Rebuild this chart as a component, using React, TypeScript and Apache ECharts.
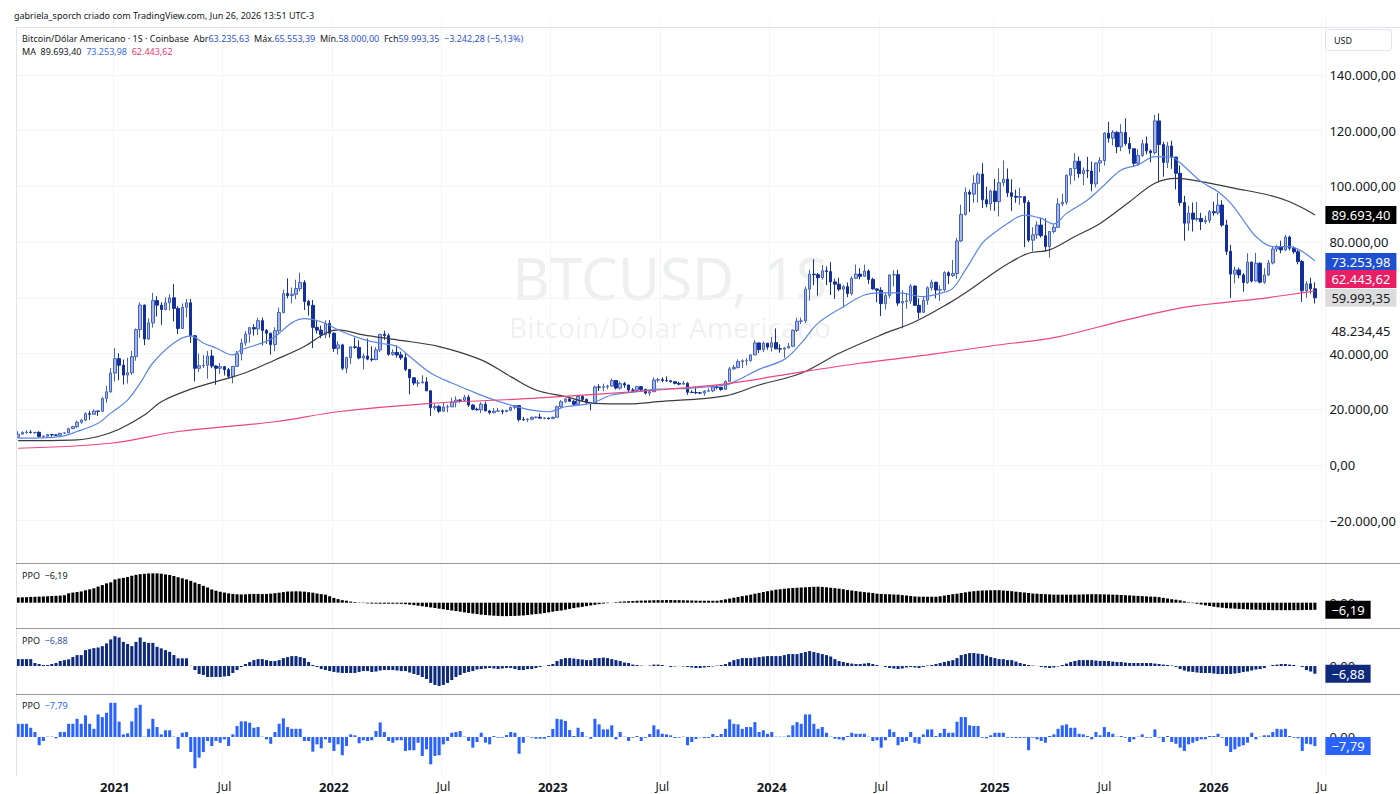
import React, { useEffect, useRef } from 'react';
import * as echarts from 'echarts';

const FONT = '"Noto Sans", Roboto, sans-serif';
const startDateUTC = Date.UTC(2020, 6, 27); // first weekly bar (Mon)
const weekCount = 311; // 309 bars + 2 empty future slots

// weekly candles in thousands of USD: [open, close, low, high]
const weeklyCandles = [
  // 2020
  [9.93,11.05,9.88,12.10],[11.05,11.68,11.00,12.05],[11.68,11.77,11.15,12.48],[11.77,11.65,11.30,12.47],
  [11.65,11.71,11.10,11.80],[11.71,10.25,9.88,12.09],[10.25,10.33,9.88,10.60],[10.33,10.92,10.20,11.10],
  [10.92,10.78,10.14,10.99],[10.78,10.67,10.38,10.95],[10.67,11.38,10.53,11.49],[11.38,11.50,11.20,11.73],
  [11.50,13.03,11.42,13.35],[13.03,13.77,12.90,14.10],[13.77,15.30,13.20,15.96],[15.30,16.05,14.80,16.50],
  [16.05,18.40,15.80,18.95],[18.40,18.18,16.20,19.47],[18.18,19.36,18.10,19.92],[19.36,19.27,17.60,19.40],
  [19.27,23.85,19.00,24.30],[23.85,26.28,22.30,28.40],[26.28,33.00,25.90,34.80],
  // 2021
  [33.00,38.15,30.00,41.95],[38.15,35.80,30.40,40.10],[35.80,32.26,28.85,37.85],[32.26,33.10,29.25,38.50],
  [33.10,38.90,32.30,40.95],[38.90,48.60,37.40,49.00],[48.60,57.40,45.60,58.35],[57.40,45.20,43.00,57.50],
  [45.20,51.00,44.95,52.65],[51.00,59.00,49.30,61.80],[59.00,57.35,53.30,60.60],[57.35,55.80,50.30,58.40],
  [55.80,58.20,55.50,60.20],[58.20,60.00,55.50,61.30],[60.00,56.20,51.50,64.90],[56.20,49.00,47.00,57.00],
  [49.00,56.60,48.80,58.00],[56.60,58.20,53.00,59.60],[58.20,46.40,43.80,59.60],[46.40,34.70,30.00,46.60],
  [34.70,35.60,33.40,40.00],[35.60,35.80,34.80,39.50],[35.80,39.10,31.00,40.90],[39.10,35.50,34.80,41.30],
  [35.50,34.70,28.80,35.80],[34.70,35.30,32.70,36.60],[35.30,34.20,32.10,35.40],[34.20,31.80,31.00,34.80],
  [31.80,35.40,29.30,35.50],[35.40,39.90,35.30,40.90],[39.90,43.80,37.50,45.30],[43.80,47.00,42.80,48.10],
  [47.00,49.30,43.90,49.50],[49.30,48.80,46.40,50.50],[48.80,51.80,46.60,52.90],[51.80,48.30,42.90,52.90],
  [48.30,47.30,43.50,48.80],[47.30,43.20,39.60,47.40],[43.20,48.20,40.80,49.40],[48.20,54.70,46.90,56.50],
  [54.70,61.50,54.40,62.90],[61.50,60.80,59.80,67.00],[60.80,61.30,58.00,63.70],[61.30,63.30,59.50,66.50],
  [63.30,65.50,62.30,69.00],[65.50,58.70,55.60,66.30],[58.70,57.30,53.60,59.30],[57.30,49.40,42.00,59.20],
  [49.40,48.40,47.10,51.90],[48.40,46.70,45.50,50.00],[46.70,50.80,45.50,51.90],[50.80,47.30,45.70,52.00],
  // 2022
  [47.30,41.80,40.60,47.60],[41.80,43.10,39.60,44.40],[43.10,34.70,34.00,43.50],[34.70,38.50,32.90,38.90],
  [38.50,42.40,36.30,42.60],[42.40,42.20,41.70,45.80],[42.20,38.40,37.90,44.70],[38.40,39.10,34.30,40.00],
  [39.10,38.00,37.60,45.40],[38.00,37.80,37.10,42.60],[37.80,41.30,37.60,42.30],[41.30,46.90,40.50,47.00],
  [46.90,46.40,44.90,48.20],[46.40,39.70,39.20,47.20],[39.70,40.40,39.20,41.50],[40.40,39.50,38.50,42.90],
  [39.50,38.50,37.70,40.70],[38.50,34.30,33.70,40.00],[34.30,31.30,25.40,34.40],[31.30,29.40,28.70,31.40],
  [29.40,29.45,28.00,30.60],[29.45,29.80,29.30,32.20],[29.80,26.60,26.50,31.50],[26.60,20.55,17.60,26.80],
  [20.55,21.00,19.70,21.90],[21.00,19.30,18.60,21.50],[19.30,20.80,19.00,22.50],[20.80,20.85,18.90,21.60],
  [20.85,22.60,20.80,24.20],[22.60,23.30,20.70,24.60],[23.30,23.20,22.40,23.60],[23.20,24.30,22.70,25.20],
  [24.30,21.50,20.80,25.20],[21.50,20.00,19.60,21.80],[20.00,19.80,19.50,20.60],[19.80,21.80,18.60,22.50],
  [21.80,19.40,19.30,22.80],[19.40,18.80,18.10,19.70],[18.80,19.30,18.50,20.40],[19.30,19.40,19.00,20.50],
  [19.40,19.20,18.20,19.90],[19.20,19.60,18.90,19.70],[19.60,20.60,19.30,21.00],[20.60,21.30,20.00,21.50],
  [21.30,16.30,15.60,21.40],[16.30,16.25,15.80,17.20],[16.25,16.40,15.50,16.80],[16.40,17.10,16.00,17.40],
  [17.10,17.15,16.70,17.40],[17.15,16.80,16.50,18.40],[16.80,16.85,16.40,17.00],[16.85,16.60,16.40,16.95],
  // 2023
  [16.60,17.10,16.50,17.40],[17.10,20.90,17.00,21.30],[20.90,22.70,20.40,23.30],[22.70,23.70,22.30,23.80],
  [23.70,22.90,22.60,24.20],[22.90,21.80,21.40,23.20],[21.80,24.60,21.50,25.20],[24.60,23.50,22.80,25.10],
  [23.50,22.40,21.90,23.90],[22.40,22.00,19.60,22.60],[22.00,28.00,21.90,28.50],[28.00,27.90,26.60,29.00],
  [27.90,28.10,26.50,29.20],[28.10,28.30,27.20,28.80],[28.30,30.30,28.20,31.00],[30.30,27.60,27.10,30.40],
  [27.60,29.20,27.00,30.00],[29.20,28.70,27.70,29.80],[28.70,26.90,26.00,28.80],[26.90,26.80,26.30,27.60],
  [26.80,28.10,26.10,28.40],[28.10,27.10,26.50,28.40],[27.10,25.80,25.30,27.40],[25.80,26.30,24.80,26.80],
  [26.30,30.50,26.20,31.40],[30.50,30.60,29.60,31.30],[30.60,30.30,29.70,31.50],[30.30,30.20,29.90,31.80],
  [30.20,29.90,29.50,30.40],[29.90,29.30,28.90,30.00],[29.30,29.00,28.60,29.80],[29.00,29.30,28.80,30.20],
  [29.30,26.10,25.20,29.70],[26.10,26.00,25.80,26.80],[26.00,25.90,25.40,28.10],[25.90,25.80,25.40,26.10],
  [25.80,26.50,24.90,26.90],[26.50,26.60,26.30,27.50],[26.60,28.00,26.10,28.10],[28.00,27.90,27.20,28.60],
  [27.90,27.10,26.60,28.00],[27.10,30.00,26.90,30.30],[30.00,34.50,29.90,35.20],[34.50,35.00,34.10,35.90],
  [35.00,37.10,34.60,37.90],[37.10,37.40,34.80,37.90],[37.40,37.45,35.70,38.40],[37.45,39.50,37.10,39.70],
  [39.50,43.80,39.40,44.70],[43.80,41.40,40.20,43.90],[41.40,43.70,40.50,44.30],[43.70,42.30,41.40,43.80],
  // 2024
  [42.30,43.90,40.70,45.90],[43.90,41.70,41.50,49.00],[41.70,41.60,40.30,43.30],[41.60,42.00,38.50,42.20],
  [42.00,42.60,41.80,43.80],[42.60,48.30,42.30,48.60],[48.30,51.60,47.70,52.80],[51.60,51.70,50.60,52.90],
  [51.70,63.10,50.90,64.00],[63.10,68.50,59.00,70.10],[68.50,68.30,64.50,73.80],[68.30,67.20,60.80,68.90],
  [67.20,69.70,66.50,71.80],[69.70,69.40,64.50,71.30],[69.40,65.70,61.00,72.80],[65.70,64.90,59.60,66.90],
  [64.90,63.10,62.40,67.20],[63.10,64.00,56.50,64.70],[64.00,61.50,60.20,65.50],[61.50,67.00,60.80,67.70],
  [67.00,68.50,66.70,71.90],[68.50,67.70,66.60,70.60],[67.70,69.60,67.60,71.90],[69.60,66.60,65.00,70.20],
  [66.60,63.20,63.00,67.20],[63.20,62.70,58.40,63.30],[62.70,57.90,53.50,63.80],[57.90,60.80,55.80,61.60],
  [60.80,68.20,59.90,68.30],[68.20,68.30,64.10,69.90],[68.30,58.10,57.10,70.00],[58.10,58.70,49.00,62.70],
  [58.70,58.90,56.10,61.80],[58.90,64.20,57.80,65.00],[64.20,57.30,57.20,64.40],[57.30,54.80,52.50,59.80],
  [54.80,59.10,54.60,60.60],[59.10,63.60,57.50,64.10],[63.60,65.60,62.60,66.50],[65.60,62.80,59.80,65.70],
  [62.80,62.90,58.90,64.50],[62.90,69.00,62.30,69.50],[69.00,68.00,65.00,69.50],[68.00,68.70,67.50,73.60],
  [68.70,80.40,66.80,81.50],[80.40,89.90,80.00,93.40],[89.90,97.90,89.50,99.60],[97.90,97.20,90.80,98.80],
  [97.20,101.10,94.10,104.00],[101.10,104.40,94.20,105.00],[104.40,95.20,92.20,108.30],[95.20,93.70,92.50,99.90],
  [93.70,98.30,91.30,98.90],
  // 2025
  [98.30,94.50,91.20,102.70],[94.50,101.30,89.20,106.40],[101.30,102.60,100.00,109.30],[102.60,97.70,96.20,106.40],
  [97.70,96.40,91.20,102.50],[96.40,96.10,94.10,98.80],[96.10,96.30,93.40,99.50],[96.30,94.20,78.20,96.50],
  [94.20,80.70,80.00,95.00],[80.70,82.60,76.60,85.30],[82.60,86.10,81.10,87.50],[86.10,82.30,81.60,88.80],
  [82.30,78.40,77.10,88.50],[78.40,83.80,74.40,84.00],[83.80,85.30,83.10,86.40],[85.30,93.70,85.10,95.80],
  [93.70,94.30,92.80,97.40],[94.30,104.00,93.40,104.30],[104.00,106.40,100.70,106.60],[106.40,109.00,102.00,112.00],
  [109.00,104.60,103.10,110.70],[104.60,105.70,100.40,106.80],[105.70,105.50,103.00,110.60],[105.50,100.90,98.20,108.90],
  [100.90,108.40,99.60,108.50],[108.40,109.20,105.10,110.50],[109.20,119.10,107.50,119.50],[119.10,117.30,115.70,123.20],
  [117.30,119.40,114.70,120.20],[119.40,114.20,111.90,119.80],[114.20,119.30,112.60,122.30],[119.30,115.40,114.60,124.40],
  [115.40,113.50,111.70,117.60],[113.50,108.30,107.30,113.60],[108.30,111.10,107.30,113.40],[111.10,115.30,110.60,116.80],
  [115.30,112.70,111.50,117.90],[112.70,112.10,108.60,113.30],[112.10,123.50,111.40,125.70],[123.50,115.00,102.00,126.20],
  [115.00,108.60,103.50,116.00],[108.60,114.50,106.60,116.00],[114.50,110.50,106.30,116.40],[110.50,104.70,98.90,110.60],
  [104.70,94.20,93.00,107.50],[94.20,86.80,80.50,96.60],[86.80,90.40,84.00,93.10],[90.40,88.20,83.80,94.20],
  [88.20,88.50,87.50,94.40],[88.50,87.30,84.30,90.50],[87.30,87.80,86.50,89.50],[87.80,90.90,86.80,91.50],
  // 2026
  [90.90,90.50,89.50,94.50],[90.50,93.30,89.80,97.60],[93.30,86.10,85.50,95.00],[86.10,76.70,75.40,88.00],
  [76.70,68.50,60.00,79.00],[68.50,70.00,65.20,71.20],[70.00,68.20,67.00,70.80],[68.20,65.50,62.20,68.80],
  [65.50,72.80,65.00,76.00],[72.80,66.00,65.50,73.00],[66.00,72.40,65.80,76.10],[72.40,65.60,65.20,72.80],
  [65.60,68.20,65.00,70.60],[68.20,72.50,67.80,73.60],[72.50,77.50,72.00,78.40],[77.50,78.20,76.50,79.00],
  [78.20,77.20,76.00,80.50],[77.20,81.80,76.80,82.60],[81.80,77.80,77.00,82.30],[77.80,76.50,75.80,78.50],
  [76.50,73.00,72.00,77.20],[73.00,62.50,58.50,73.60],[62.50,65.00,60.00,66.00],[65.00,63.236,61.50,67.20],
  [63.236,59.993,58.00,65.553],
];

// moving averages: [weekIndex, value in k USD]
const maShortPoints = [[0,9.6],[10,10.2],[14,12.0],[19,15.0],[22,18.6],[26,23.3],[29,29.4],[32,36.6],[37,43.8],[41,46.3],[44,43.8],[47,42.0],[51,39.5],[53,41.3],[58,43.8],[61,46.0],[65,51.0],[68,52.5],[72,51.4],[77,47.8],[82,45.1],[86,43.7],[90,42.5],[93,38.9],[98,33.0],[103,29.4],[107,26.9],[112,23.9],[117,21.5],[122,19.7],[126,19.1],[130,20.9],[136,22.1],[141,25.1],[147,26.3],[152,27.2],[159,27.5],[168,28.7],[171,30.5],[176,34.3],[182,37.9],[186,43.7],[190,50.9],[196,56.8],[201,61.0],[205,61.8],[209,61.8],[215,60.4],[219,61.6],[222,63.4],[225,70.0],[229,79.6],[231,82.3],[235,86.7],[239,89.7],[243,88.5],[246,86.5],[249,90.3],[254,95.1],[258,100.5],[262,105.9],[266,107.7],[270,110.7],[274,110.5],[276,108.5],[281,101.7],[285,98.1],[288,94.0],[291,87.9],[294,82.0],[298,78.4],[302,78.4],[305,76.6],[308,73.254]];
const maMidPoints = [[0,8.7],[14,9.0],[19,10.2],[24,12.8],[30,17.9],[34,22.7],[41,27.2],[47,29.9],[54,33.1],[61,37.7],[68,42.5],[73,47.3],[76,48.5],[82,46.7],[90,44.9],[100,42.5],[110,37.7],[117,31.7],[123,26.9],[130,24.5],[137,22.1],[145,21.9],[152,22.7],[168,24.8],[176,28.7],[186,32.9],[195,40.1],[205,46.7],[213,51.4],[221,58.0],[226,62.8],[231,68.2],[236,73.0],[240,76.0],[245,77.2],[251,82.0],[257,86.7],[264,94.5],[270,101.1],[275,102.9],[281,101.7],[289,99.3],[297,96.9],[302,94.5],[306,91.5],[308,89.693]];
const maLongPoints = [[0,6.0],[22,7.8],[38,12.0],[61,15.5],[76,19.1],[98,22.1],[122,23.9],[152,26.9],[168,29.1],[184,32.9],[200,36.5],[216,39.5],[231,42.7],[247,46.0],[263,52.0],[278,56.8],[294,59.5],[308,62.444]];

// PPO histograms (one value per week)
const ppoBlack = [
  4.6,4.7,4.8,5.0,5.1,5.3,5.4,5.6,5.8,6.0, 6.2,6.5,8.1,8.8,9.3,9.8,10.8,11.6,12.5,14.0,
  15.3,16.8,17.7,20.2,21.0,21.6,22.3,23.4,24.2,24.8, 25.1,25.4,25.5,25.5,25.2,24.6,24.1,23.2,22.1,21.2,
  20.2,19.0,17.5,16.2,14.6,13.2,11.5,10.4,9.5,8.8, 8.1,7.6,7.3,7.2,7.3,7.5,7.6,7.6,7.5,7.6,
  7.9,8.3,8.7,9.2,9.7,9.8,9.9,9.8,9.6,9.1, 8.7,8.0,7.4,7.0,5.6,4.1,3.1,2.2,1.7,1.0,
  0.6,0.2,-0.3,-0.6,-0.8,-0.8,-0.9,-0.9,-0.9,-0.9, -0.9,-1.0,-1.3,-1.7,-2.1,-2.6,-3.1,-3.6,-4.1,-4.6,
  -5.2,-5.7,-6.3,-6.8,-7.3,-7.8,-8.4,-8.9,-9.4,-9.9, -10.4,-10.7,-11.0,-11.3,-11.5,-11.7,-11.7,-11.6,-11.5,-11.3,
  -11.1,-10.7,-10.3,-9.9,-9.6,-9.0,-8.4,-7.8,-7.2,-6.8, -6.1,-5.4,-4.7,-4.1,-3.6,-3.0,-2.4,-1.8,-1.3,-0.8,
  -0.4,0.1,0.5,0.9,1.1,1.3,1.5,1.7,1.8,1.9, 2.0,2.1,2.2,2.2,2.3,2.3,2.2,2.2,2.1,2.0,
  1.9,1.8,1.7,1.7,1.7,1.7,1.7,2.2,2.9,3.6, 4.3,5.0,5.7,6.3,7.0,7.8,8.5,9.3,10.0,10.6,
  11.3,11.7,12.1,12.5,12.8,13.0,13.2,13.4,13.6,13.8, 13.9,13.7,13.4,13.0,12.6,12.2,11.7,11.1,10.6,10.1,
  9.6,9.2,8.8,8.4,7.8,7.6,7.4,7.3,7.1,7.0, 6.6,6.2,5.8,5.4,5.2,5.2,5.2,5.2,5.2,5.6,
  6.2,6.8,7.4,7.8,8.4,9.0,9.6,10.0,10.4,10.6, 10.7,10.8,10.9,10.9,10.6,10.3,10.0,9.6,9.2,8.8,
  8.4,8.0,7.8,7.6,7.4,7.2,7.0,7.0,7.0,7.0, 7.0,7.0,7.1,7.2,7.3,7.4,7.4,7.3,7.2,7.1,
  7.0,6.9,6.7,6.5,6.3,6.1,5.9,5.7,5.5,5.3, 5.2,4.8,4.2,3.6,3.0,2.6,2.0,1.2,0.4,-0.4,
  -0.9,-1.6,-2.3,-2.9,-3.5,-4.0,-4.4,-4.8,-5.0,-5.2, -5.4,-5.6,-5.8,-6.0,-6.1,-6.2,-6.3,-6.4,-6.5,-6.5,
  -6.5,-6.5,-6.5,-6.5,-6.5,-6.4,-6.3,-6.25,-6.19,
];
const ppoNavy = [
  6.2,6.2,6.2,6.2,2.7,1.8,0.9,0.9,1.8,2.7, 4.5,5.3,6.0,8.0,9.8,9.8,14.2,15.1,16.0,16.6,
  17.8,20.2,23.8,26.7,25.5,21.6,19.6,17.8,21.6,25.5, 21.6,20.7,20.7,17.2,15.8,14.2,12.7,9.8,6.9,6.9,
  6.9,0.2,-3.6,-7.1,-8.0,-9.8,-9.8,-9.8,-9.8,-9.3, -8.9,-6.2,-3.6,-0.9,1.8,3.6,5.3,6.2,6.2,5.3,
  4.5,4.5,5.3,7.1,8.0,8.9,8.9,8.0,7.1,3.6, 0.9,-0.9,-2.7,-3.6,-4.5,-5.3,-5.8,-6.2,-6.2,-6.2,
  -6.2,-5.3,-4.5,-4.5,-5.3,-4.9,-4.0,-3.6,-3.6,-3.6, -4.0,-4.5,-4.5,-5.8,-7.1,-8.0,-9.8,-11.6,-15.1,-16.9,
  -17.8,-16.9,-15.1,-12.5,-9.8,-8.0,-6.2,-5.3,-4.5,-3.1, -2.7,-2.2,-1.8,-2.2,-2.7,-2.2,-1.8,-1.8,-2.7,-3.6,
  -3.6,-2.7,-2.7,-1.8,-0.9,0.1,0.9,1.8,4.5,6.2, 7.1,7.1,6.7,6.2,5.8,5.3,5.3,7.1,7.1,7.6,
  7.1,6.2,5.3,4.5,3.1,2.7,1.3,0.9,0.4,0.1, 0.4,1.3,1.3,0.9,0.1,-0.9,-0.4,0.1,-0.4,-0.9,
  -1.3,-1.8,-1.8,-1.3,-0.9,-0.4,0.4,0.9,1.8,3.6, 5.3,6.2,7.1,7.1,7.1,7.6,8.0,8.5,8.9,8.9,
  8.9,8.9,9.8,10.7,10.7,10.7,11.6,12.5,13.4,12.5, 11.6,10.7,9.8,8.5,6.2,4.5,3.6,2.7,2.2,1.8,
  1.8,2.2,2.7,1.8,0.9,0.1,-0.9,-1.8,-2.2,-2.7, -2.2,-1.3,-0.9,-1.3,-1.8,-0.9,0.4,0.9,1.8,2.7,
  3.6,4.5,5.3,7.1,9.8,10.7,11.6,11.6,11.1,10.7, 9.3,8.0,7.1,6.2,6.2,5.3,5.3,4.0,2.7,1.8,
  0.9,0.4,0.1,-0.9,-1.3,-1.8,-1.3,-0.4,0.9,2.2, 3.6,4.5,5.3,5.3,5.3,5.3,4.9,4.5,4.5,4.5,
  4.0,3.6,3.6,3.1,2.7,2.7,2.7,2.7,2.7,2.7, 2.2,1.8,1.3,0.9,0.4,-0.9,-2.7,-4.0,-4.9,-5.3,
  -5.8,-6.2,-6.2,-6.2,-6.7,-7.1,-7.1,-7.1,-7.1,-6.7, -6.2,-5.3,-4.9,-4.0,-3.1,-2.7,-1.8,0.1,0.9,1.3,
  1.8,1.8,1.3,0.9,0.1,-0.9,-3.6,-4.9,-6.88,
];
const ppoBlue = [
  11.4,11.4,11.4,8.0,4.3,-7.1,-3.4,0.3,0.3,-1.1, 4.3,4.3,11.4,11.4,15.7,11.4,18.7,11.4,7.1,19.5,
  17.2,20.9,29.5,29.5,13.2,2.3,3.2,13.5,25.2,27.8, 0.3,7.1,15.7,8.6,2.3,5.8,5.8,0.3,-10.1,3.7,
  4.3,-12.9,-26.9,-17.8,-12.9,-3.4,-7.7,-3.4,-4.9,-2.0, -7.7,2.3,9.5,13.5,13.5,12.3,8.0,8.6,0.3,-2.0,
  -5.8,4.3,11.4,16.1,8.6,7.1,7.1,7.1,-3.4,-3.4, -12.6,-6.3,-9.7,-2.0,-4.9,-12.0,-6.3,-15.7,-7.7,2.3,
  1.5,-5.4,-2.8,-3.4,-2.8,5.2,12.6,4.3,-3.4,-4.9, -2.8,-2.8,-12.0,-11.4,-11.4,-4.9,-16.3,-10.6,-23.5,-16.3,
  -15.7,-6.3,-3.4,3.7,4.3,5.2,0.3,-3.4,-9.2,-4.3, 3.7,-4.9,-6.3,0.9,-0.6,-0.6,1.7,4.3,3.7,-14.4,
  -4.9,0.3,-0.6,-1.5,-1.5,-1.5,0.9,6.9,15.7,15.2, 13.8,6.0,0.9,8.0,4.3,0.3,-1.5,15.7,10.9,6.6,
  6.6,10.1,-2.0,4.3,0.3,-3.4,-0.6,0.9,-3.4,-0.6, 2.6,10.1,6.6,2.8,2.3,1.5,-0.9,-0.6,0.3,-7.1,
  -4.3,-1.7,-0.3,-0.9,-0.9,2.6,0.9,2.6,7.1,15.2, 11.4,10.9,7.1,8.6,8.6,12.9,4.3,5.8,2.8,4.3,
  0.3,0.3,0.3,1.5,10.1,12.9,11.4,19.5,19.5,11.4, 7.1,8.6,3.7,0.3,-1.5,-2.0,-2.8,0.9,3.7,2.8,
  2.8,2.8,0.3,-3.4,-2.8,-9.2,-2.8,6.6,4.3,-7.1, -4.3,-3.4,4.3,-4.9,-5.8,2.3,6.6,6.6,0.9,3.4,
  7.1,3.7,3.7,13.2,17.2,17.2,10.1,9.5,9.5,-0.6, -1.1,1.5,3.7,3.7,3.7,-0.6,-0.6,-0.9,-0.9,-0.6,
  -11.4,-0.6,-2.0,-3.4,-4.9,0.9,2.3,7.1,10.1,10.9, 8.0,8.0,2.8,2.3,0.9,-2.0,4.3,1.5,8.6,4.3,
  2.8,0.3,0.9,-0.6,-4.3,-2.0,0.3,2.3,-0.6,-0.6, 6.6,-0.6,-4.3,0.9,-4.3,-5.8,-9.2,-12.0,-6.3,-4.9,
  -3.4,-2.0,-2.0,0.9,0.9,2.8,-0.6,-7.7,-12.9,-10.6, -8.3,-7.1,-4.9,3.7,-2.0,0.3,1.5,1.5,4.3,7.1,
  6.6,7.1,0.9,-0.6,-1.1,-12.0,-5.8,-6.3,-7.79,
];

// header / last values
const headerOHLC = [63235.63, 65553.39, 58000.0, 59993.35];
const headerChange = [-3242.28, -5.13];
const maLastValues = [89693.40, 73253.98, 62443.62];
const ppoLastValues = [-6.19, -6.88, -7.79];
const extraPriceLabel = 48234.45;
const priceTicksK = [-20, 0, 20, 40, 60, 80, 100, 120, 140];

const fmtBR = (v, dec = 2) => {
  const neg = v < 0;
  const s = Math.abs(v).toFixed(dec);
  const parts = s.split('.');
  const intPart = parts[0].replace(/\B(?=(\d{3})+(?!\d))/g, '.');
  return (neg ? '−' : '') + intPart + (parts[1] ? ',' + parts[1] : '');
};

const categories = Array.from({ length: weekCount }, (_, i) =>
  new Date(startDateUTC + i * 7 * 86400000).toISOString().slice(0, 10)
);
const tickText = (d) => {
  const m = +d.slice(5, 7);
  const day = +d.slice(8, 10);
  if (day <= 7 && m === 1) return { year: true, text: d.slice(0, 4) };
  if (day <= 7 && m === 7) return { year: false, text: 'Jul' };
  return null;
};
const sparse = (pts) => {
  const arr = new Array(weekCount).fill(null);
  pts.forEach((p) => { arr[p[0]] = p[1]; });
  return arr;
};

const GRID_LEFT = 16;
const GRID_RIGHT = 74.6;
const GRID_LINE = '#f4f5f9';

function boxLabel(text, bg, fg, offsetY = 0) {
  return {
    show: true,
    position: 'end',
    distance: 0,
    formatter: text,
    backgroundColor: bg,
    color: fg,
    padding: [3, 6, 2, 6],
    fontSize: 13,
    fontFamily: FONT,
    offset: [0, offsetY],
  };
}
function markLineFor(items) {
  return {
    silent: true,
    symbol: ['none', 'none'],
    animation: false,
    lineStyle: { color: 'rgba(0,0,0,0)', width: 0, type: 'solid' },
    emphasis: { disabled: true },
    data: items.map((it) => ({ yAxis: it.value, label: it.label })),
  };
}

function buildOption() {
  const xBase = (gridIndex, showLabels) => ({
    type: 'category',
    gridIndex,
    data: categories,
    boundaryGap: true,
    axisLine: { show: false },
    axisTick: { show: false },
    axisLabel: showLabels
      ? {
          show: true,
          interval: (idx, val) => tickText(val) !== null,
          formatter: (val) => {
            const t = tickText(val);
            if (!t) return '';
            return t.year ? `{y|${t.text}}` : `{m|${t.text}}`;
          },
          margin: 4,
          rich: {
            y: { fontSize: 13, fontWeight: 'bold', color: '#131722', fontFamily: FONT },
            m: { fontSize: 12, color: '#131722', fontFamily: FONT },
          },
        }
      : { show: false },
    splitLine: {
      show: true,
      interval: (idx, val) => tickText(val) !== null,
      lineStyle: { color: GRID_LINE, width: 1 },
    },
  });

  const ppoY = (gridIndex, min, max) => ({
    type: 'value',
    gridIndex,
    position: 'right',
    min,
    max,
    axisLine: { show: false },
    axisTick: { show: false },
    splitLine: { show: false },
    axisLabel: {
      margin: 4,
      fontSize: 13,
      color: '#131722',
      fontFamily: FONT,
      formatter: (v) => (v === 0 ? '0,00' : ''),
    },
  });

  const mainSplitColors = priceTicksK.map(() => GRID_LINE);
  mainSplitColors.unshift('rgba(0,0,0,0)');
  mainSplitColors.push('rgba(0,0,0,0)');

  const ppoBar = (idx, data, color, boxBg, labelColor) => ({
    type: 'bar',
    xAxisIndex: idx,
    yAxisIndex: idx,
    data,
    barWidth: '72%',
    itemStyle: { color },
    silent: true,
    markLine: markLineFor([
      { value: data[data.length - 1], label: boxLabel(fmtBR(ppoLastValues[idx - 1]), boxBg, labelColor) },
    ]),
  });

  const header2 =
    'Bitcoin/Dólar Americano · 1S · Coinbase  Abr{v|' + fmtBR(headerOHLC[0]) + '}  Máx.{v|' + fmtBR(headerOHLC[1]) +
    '}  Mín.{v|' + fmtBR(headerOHLC[2]) + '}  Fch{v|' + fmtBR(headerOHLC[3]) + '}  {v|' + fmtBR(headerChange[0]) +
    ' (' + fmtBR(headerChange[1]) + '%)}';
  const header3 = 'MA  {a|' + fmtBR(maLastValues[0]) + '}  {b|' + fmtBR(maLastValues[1]) + '}  {c|' + fmtBR(maLastValues[2]) + '}';

  const smallFont = '9px ' + FONT;
  const ppoTitle = (y, valueText, color) => ({
    type: 'text',
    x: 22,
    y,
    z: 50,
    style: {
      text: '{t|PPO}  {v|' + valueText + '}',
      verticalAlign: 'middle',
      font: smallFont,
      rich: {
        t: { fill: '#131722', font: smallFont },
        v: { fill: color, font: smallFont },
      },
    },
  });
  const hline = (y, color, width = 1) => ({
    type: 'line',
    z: 40,
    shape: { x1: GRID_LEFT, y1: y, x2: 1400, y2: y },
    style: { stroke: color, lineWidth: width },
  });

  return {
    animation: false,
    backgroundColor: '#ffffff',
    grid: [
      { left: GRID_LEFT, right: GRID_RIGHT, top: 19.2, bottom: 217.6 },
      { left: GRID_LEFT, right: GRID_RIGHT, top: 563, height: 65 },
      { left: GRID_LEFT, right: GRID_RIGHT, top: 628, height: 66 },
      { left: GRID_LEFT, right: GRID_RIGHT, top: 694, height: 82 },
    ],
    xAxis: [xBase(0, false), xBase(1, false), xBase(2, false), xBase(3, true)],
    yAxis: [
      {
        type: 'value',
        gridIndex: 0,
        position: 'right',
        min: -40,
        max: 160,
        interval: 20,
        axisLine: { show: false },
        axisTick: { show: false },
        splitLine: { show: true, lineStyle: { color: mainSplitColors, width: 1 } },
        axisLabel: {
          margin: 4,
          fontSize: 13,
          color: '#131722',
          fontFamily: FONT,
          formatter: (v) => (priceTicksK.indexOf(v) >= 0 ? fmtBR(v * 1000) : ''),
        },
      },
      ppoY(1, -22, 34.5),
      ppoY(2, -25, 34),
      ppoY(3, -33.6, 37.1),
    ],
    graphic: [
      {
        type: 'text', x: 14, y: 15, z: 50,
        style: { text: 'gabriela_sporch criado com TradingView.com, Jun 26, 2026 13:51 UTC-3', font: smallFont, fill: '#131722', verticalAlign: 'middle' },
      },
      {
        type: 'text', x: 22, y: 38, z: 50,
        style: {
          text: header2, font: smallFont, fill: '#131722', verticalAlign: 'middle',
          rich: { v: { fill: '#3052cf', font: smallFont } },
        },
      },
      {
        type: 'text', x: 22, y: 51, z: 50,
        style: {
          text: header3, font: smallFont, fill: '#131722', verticalAlign: 'middle',
          rich: {
            a: { fill: '#131722', font: smallFont },
            b: { fill: '#3a6ce0', font: smallFont },
            c: { fill: '#e8386d', font: smallFont },
          },
        },
      },
      {
        type: 'rect', z: 50,
        shape: { x: 1325.5, y: 29.5, width: 66, height: 21, r: 3 },
        style: { fill: '#ffffff', stroke: '#e0e3eb', lineWidth: 1 },
      },
      {
        type: 'text', x: 1334, y: 40, z: 51,
        style: { text: 'USD', font: '9px ' + FONT, fill: '#131722', verticalAlign: 'middle' },
      },
      {
        type: 'text', x: 670, y: 277, z: 0,
        style: { text: 'BTCUSD, 1S', font: '58px ' + FONT, fill: 'rgba(19,23,34,0.07)', align: 'center', verticalAlign: 'middle' },
      },
      {
        type: 'text', x: 670, y: 327, z: 0,
        style: { text: 'Bitcoin/Dólar Americano', font: '28px ' + FONT, fill: 'rgba(19,23,34,0.07)', align: 'center', verticalAlign: 'middle' },
      },
      hline(27.5, '#e0e3eb'),
      {
        type: 'line', z: 40,
        shape: { x1: 16.5, y1: 27, x2: 16.5, y2: 776 },
        style: { stroke: '#e0e3eb', lineWidth: 1 },
      },
      hline(563.5, '#9598a1', 1.2),
      hline(628.5, '#9598a1', 1.2),
      hline(694.5, '#9598a1', 1.2),
      ppoTitle(575, fmtBR(ppoLastValues[0]), '#131722'),
      ppoTitle(640, fmtBR(ppoLastValues[1]), '#3a58b0'),
      ppoTitle(705, fmtBR(ppoLastValues[2]), '#2962ff'),
      {
        type: 'rect', z: 100,
        shape: { x: 1327, y: 778, width: 73, height: 16 },
        style: { fill: '#ffffff' },
      },
    ],
    series: [
      {
        type: 'candlestick',
        xAxisIndex: 0,
        yAxisIndex: 0,
        data: weeklyCandles,
        barWidth: 3,
        silent: true,
        itemStyle: {
          color: '#a6b6e6',
          color0: '#122f9a',
          borderColor: '#4462c2',
          borderColor0: '#122f9a',
          borderWidth: 1,
        },
        markLine: markLineFor([
          { value: extraPriceLabel / 1000, label: { show: true, position: 'end', distance: 0, formatter: fmtBR(extraPriceLabel), color: '#131722', fontSize: 13, fontFamily: FONT, padding: [3, 6, 2, 6] } },
          { value: weeklyCandles[weeklyCandles.length - 1][1], label: boxLabel(fmtBR(headerOHLC[3]), '#dcdcdc', '#131722') },
        ]),
      },
      {
        type: 'line', xAxisIndex: 0, yAxisIndex: 0,
        data: sparse(maMidPoints), connectNulls: true, smooth: 0.35, showSymbol: false, silent: true,
        lineStyle: { color: '#3b3b3b', width: 1.2 },
        markLine: markLineFor([{ value: maLastValues[0] / 1000, label: boxLabel(fmtBR(maLastValues[0]), '#000000', '#ffffff') }]),
      },
      {
        type: 'line', xAxisIndex: 0, yAxisIndex: 0,
        data: sparse(maShortPoints), connectNulls: true, smooth: 0.35, showSymbol: false, silent: true,
        lineStyle: { color: '#5b86e5', width: 1.2 },
        markLine: markLineFor([{ value: maLastValues[1] / 1000, label: boxLabel(fmtBR(maLastValues[1]), '#1f4fd1', '#ffffff', 1) }]),
      },
      {
        type: 'line', xAxisIndex: 0, yAxisIndex: 0,
        data: sparse(maLongPoints), connectNulls: true, smooth: 0.35, showSymbol: false, silent: true,
        lineStyle: { color: '#f0457a', width: 1.2 },
        markLine: markLineFor([{ value: maLastValues[2] / 1000, label: boxLabel(fmtBR(maLastValues[2]), '#e91e63', '#ffffff', -12) }]),
      },
      ppoBar(1, ppoBlack, '#000000', '#000000', '#ffffff'),
      ppoBar(2, ppoNavy, '#0d2a7d', '#0d2a7d', '#ffffff'),
      ppoBar(3, ppoBlue, '#2962ff', '#2962ff', '#ffffff'),
    ],
  };
}

export default function App() {
  const ref = useRef(null);
  useEffect(() => {
    if (!ref.current) return;
    const chart = echarts.init(ref.current, undefined, { renderer: 'svg' });
    chart.setOption(buildOption());
    return () => chart.dispose();
  }, []);
  return (
    <div
      ref={ref}
      style={{ position: 'fixed', left: 0, top: 0, width: 1400, height: 794, background: '#ffffff' }}
    />
  );
}
